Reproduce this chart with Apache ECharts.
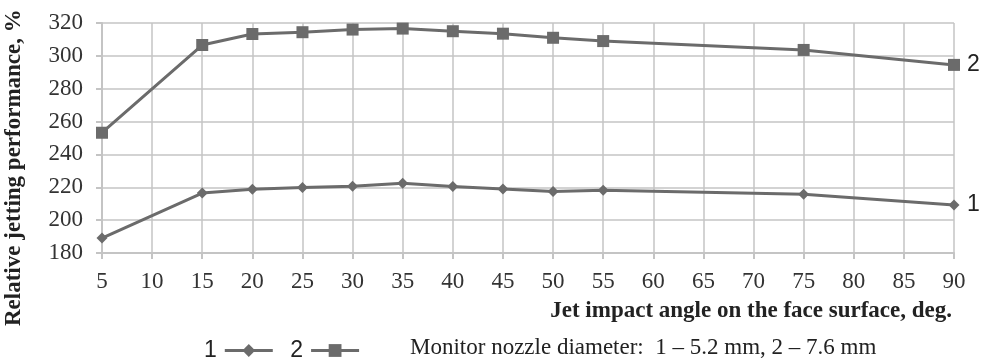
<!DOCTYPE html>
<html>
<head>
<meta charset="utf-8">
<script src="https://cdn.jsdelivr.net/npm/echarts@6/dist/echarts.min.js"></script>
<style>
  html, body { margin: 0; padding: 0; background: #fff; }
  #chart { width: 988px; height: 360px; }
</style>
</head>
<body>
<div id="chart"></div>
<script>
// Jet impact angle, degrees
const angles = [5, 15, 20, 25, 30, 35, 40, 45, 50, 55, 75, 90];
// Relative jetting performance, % — nozzle 1 (5.2 mm)
const nozzle1 = [189.1, 216.5, 218.8, 219.8, 220.6, 222.5, 220.5, 219.0, 217.5, 218.2, 215.7, 209.2];
// Relative jetting performance, % — nozzle 2 (7.6 mm)
const nozzle2 = [253.2, 306.6, 313.3, 314.4, 316.0, 316.6, 315.0, 313.5, 311.0, 309.0, 303.6, 294.5];
const seriesNames = ['1', '2'];

const lineColor = '#6b6b6b';
const gridColor = '#c4c4c4';
const serif = '"Liberation Serif", "Times New Roman", serif';
const sans = '"Liberation Sans", Arial, sans-serif';

const chart = echarts.init(document.getElementById('chart'), null, { renderer: 'canvas' });

function pairs(values) {
  return angles.map((a, i) => [a, values[i]]);
}

function lineSeries(name, values, symbol, size) {
  return {
    name: name,
    type: 'line',
    data: pairs(values),
    symbol: symbol,
    symbolSize: size,
    showAllSymbol: true,
    lineStyle: { color: lineColor, width: 3 },
    itemStyle: { color: lineColor },
    emphasis: { disabled: true },
    animation: false,
    endLabel: {
      show: true,
      formatter: '{a}',
      fontFamily: sans,
      fontSize: 23,
      color: '#222',
      distance: 13
    }
  };
}

chart.setOption({
  animation: false,
  grid: { left: 102, right: 34, top: 23, bottom: 107, containLabel: false },
  xAxis: {
    type: 'value',
    min: 5, max: 90, interval: 5,
    axisLine: { show: true, lineStyle: { color: gridColor, width: 2 } },
    axisTick: { show: true, length: 6, lineStyle: { color: gridColor, width: 2 } },
    splitLine: { show: true, lineStyle: { color: gridColor, width: 1.5 } },
    axisLabel: { fontFamily: serif, fontSize: 23, color: '#333', margin: 17 }
  },
  yAxis: {
    type: 'value',
    min: 180, max: 320, interval: 20,
    axisLine: { show: true, lineStyle: { color: gridColor, width: 2 } },
    axisTick: { show: true, length: 6, lineStyle: { color: gridColor, width: 2 } },
    splitLine: { show: true, lineStyle: { color: gridColor, width: 1.5 } },
    axisLabel: { fontFamily: serif, fontSize: 23, color: '#333', margin: 19 }
  },
  legend: {
    data: seriesNames,
    left: 199,
    top: 334,
    align: 'right',
    itemWidth: 48,
    itemHeight: 16,
    itemGap: 16,
    selectedMode: false,
    lineStyle: { width: 3, color: lineColor },
    itemStyle: { color: lineColor },
    textStyle: { fontFamily: sans, fontSize: 23, color: '#222', padding: [0, 3, 0, 0] }
  },
  graphic: [
    {
      type: 'text',
      right: 36,
      top: 300,
      style: {
        text: 'Jet impact angle on the face surface, deg.',
        font: 'bold 23px ' + serif,
        fill: '#222'
      }
    },
    {
      type: 'text',
      left: 410,
      top: 336,
      style: {
        text: 'Monitor nozzle diameter:  1 \u2013 5.2 mm, 2 \u2013 7.6 mm',
        font: '23px ' + serif,
        fill: '#222'
      }
    },
    {
      type: 'text',
      x: 3,
      y: 326,
      rotation: Math.PI / 2,
      style: {
        text: 'Relative jetting performance, %',
        font: 'bold 23px ' + serif,
        fill: '#222',
        textVerticalAlign: 'top'
      }
    }
  ],
  series: [
    lineSeries(seriesNames[0], nozzle1, 'diamond', 11),
    lineSeries(seriesNames[1], nozzle2, 'rect', 12)
  ]
});
</script>
</body>
</html>
